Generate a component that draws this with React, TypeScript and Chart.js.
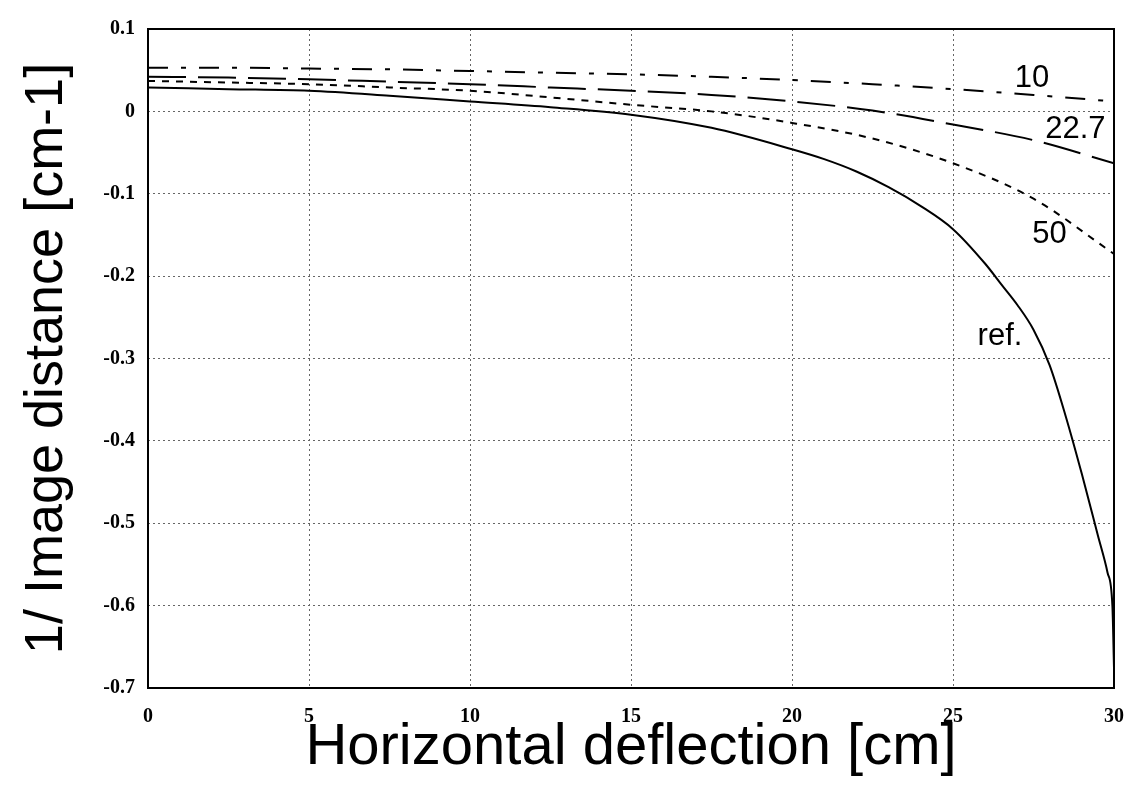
import { useEffect, useRef } from "react";
import { Chart, registerables } from "chart.js";

Chart.register(...registerables);

// Shared x positions for the three "distance" curves [cm]
const xCurves = [0, 2.5, 5, 7.5, 10, 12.5, 15, 17.5, 20, 22.5, 25, 27.5, 30];
const series10 = [0.053, 0.053, 0.052, 0.051, 0.049, 0.047, 0.045, 0.042, 0.038, 0.033, 0.027, 0.02, 0.012];
const series22_7 = [0.042, 0.041, 0.039, 0.036, 0.033, 0.029, 0.025, 0.02, 0.012, 0.001, -0.016, -0.035, -0.063];
const series50 = [0.037, 0.035, 0.033, 0.029, 0.025, 0.017, 0.008, 0.0, -0.014, -0.033, -0.063, -0.106, -0.173];

// Reference curve
const xRef = [0, 2.5, 5, 7.5, 10, 12.5, 15, 17.5, 20, 21, 22, 23, 24, 25, 26, 26.5, 27, 27.5, 28, 28.5, 29, 29.5, 29.8, 29.95, 30];
const seriesRef = [0.029, 0.027, 0.025, 0.019, 0.012, 0.005, -0.004, -0.02, -0.046, -0.058, -0.073, -0.092, -0.115, -0.143, -0.185, -0.21, -0.235, -0.265, -0.308, -0.37, -0.44, -0.515, -0.56, -0.6, -0.675];

const xTickLabels = ["0", "5", "10", "15", "20", "25", "30"];
const yTickLabels = ["-0.7", "-0.6", "-0.5", "-0.4", "-0.3", "-0.2", "-0.1", "0", "0.1"];

const curveLabels = ["10", "22.7", "50", "ref."];
const curveLabelX = [27.45, 28.8, 28.0, 26.46];
const curveLabelY = [0.04, -0.022, -0.149, -0.273];

const xTitle = "Horizontal deflection [cm]";
const yTitle = "1/ Image distance [cm-1]";

const SANS = "'Liberation Sans', Arial, Helvetica, sans-serif";
const SERIF = "'Liberation Serif', 'Times New Roman', serif";

const toPoints = (xs: number[], ys: number[]) => xs.map((x, i) => ({ x, y: ys[i] }));

const framePlugin = {
  id: "frame",
  afterDatasetsDraw(chart: any) {
    const { ctx, chartArea } = chart;
    ctx.save();
    ctx.strokeStyle = "#000";
    ctx.lineWidth = 2;
    ctx.setLineDash([]);
    ctx.strokeRect(chartArea.left, chartArea.top, chartArea.right - chartArea.left, chartArea.bottom - chartArea.top);
    ctx.restore();
  },
};

const curveLabelPlugin = {
  id: "curveLabels",
  afterDatasetsDraw(chart: any) {
    const { ctx, scales } = chart;
    ctx.save();
    ctx.fillStyle = "#000";
    ctx.font = `31px ${SANS}`;
    ctx.textAlign = "center";
    ctx.textBaseline = "middle";
    curveLabels.forEach((t, i) => {
      ctx.fillText(t, scales.x.getPixelForValue(curveLabelX[i]), scales.y.getPixelForValue(curveLabelY[i]));
    });
    ctx.restore();
  },
};

export default function App() {
  const canvasRef = useRef<HTMLCanvasElement | null>(null);

  useEffect(() => {
    if (!canvasRef.current) return;
    const lineBase = {
      borderColor: "#000",
      borderWidth: 2,
      pointRadius: 0,
      fill: false,
      cubicInterpolationMode: "monotone" as const,
    };
    const chart = new Chart(canvasRef.current, {
      type: "line",
      data: {
        datasets: [
          { ...lineBase, label: "10", data: toPoints(xCurves, series10), borderDash: [20, 13, 5, 13] },
          { ...lineBase, label: "22.7", data: toPoints(xCurves, series22_7), borderDash: [38, 12] },
          { ...lineBase, label: "50", data: toPoints(xCurves, series50), borderDash: [7, 7] },
          { ...lineBase, label: "ref.", data: toPoints(xRef, seriesRef) },
        ],
      },
      options: {
        animation: false,
        responsive: true,
        maintainAspectRatio: false,
        layout: { padding: { top: 29, right: 17, left: 0, bottom: 0 } },
        plugins: {
          legend: { display: false },
          tooltip: { enabled: false },
          title: { display: false },
        },
        scales: {
          x: {
            type: "linear",
            min: 0,
            max: 30,
            border: { display: false, dash: [2, 3] },
            grid: {
              color: "#666",
              lineWidth: 1,
              drawTicks: false,
            },
            ticks: {
              stepSize: 5,
              padding: 17,
              color: "#000",
              font: { family: SERIF, weight: "bold", size: 20 },
              callback: (_v: any, i: number) => xTickLabels[i],
            },
            title: {
              display: true,
              text: xTitle,
              color: "#000",
              font: { family: SANS, size: 58, lineHeight: 1 },
              padding: { top: 0, bottom: 15 },
            },
            afterFit: (scale: any) => {
              scale.height = 104;
              scale.paddingLeft = 0;
              scale.paddingRight = 0;
            },
          },
          y: {
            type: "linear",
            min: -0.7,
            max: 0.1,
            border: { display: false, dash: [2, 3] },
            grid: {
              color: "#666",
              lineWidth: 1,
              drawTicks: false,
            },
            ticks: {
              stepSize: 0.1,
              padding: 13,
              color: "#000",
              font: { family: SERIF, weight: "bold", size: 20 },
              callback: (_v: any, i: number) => yTickLabels[i],
            },
            title: {
              display: true,
              text: yTitle,
              color: "#000",
              font: { family: SANS, size: 54, lineHeight: 1 },
              padding: { top: 20, bottom: 0 },
            },
            afterFit: (scale: any) => {
              scale.width = 148;
            },
          },
        },
      },
      plugins: [framePlugin, curveLabelPlugin],
    });
    return () => chart.destroy();
  }, []);

  return (
    <div style={{ position: "absolute", left: 0, top: 0, width: 1131, height: 792, background: "#fff" }}>
      <canvas ref={canvasRef} />
    </div>
  );
}
